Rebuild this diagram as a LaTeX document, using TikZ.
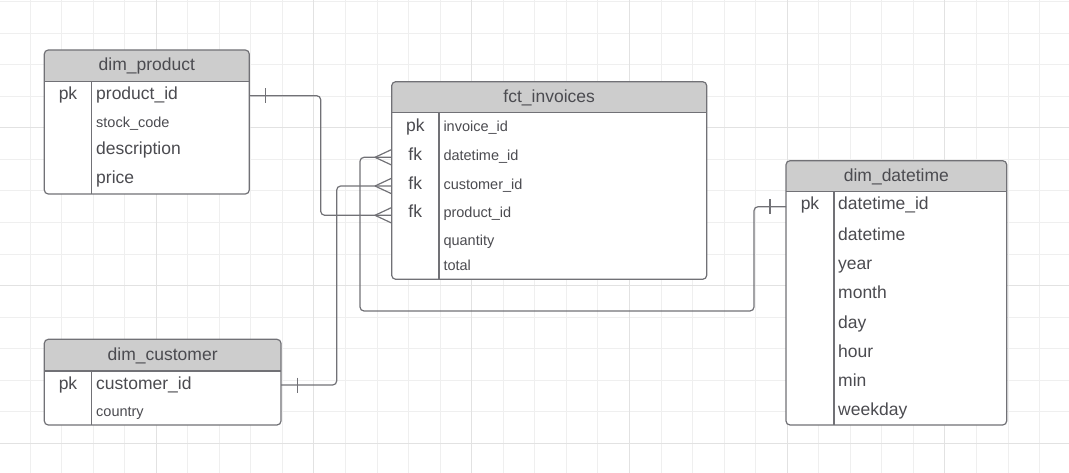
\documentclass[tikz,border=0pt]{standalone}
\usepackage{fontspec}
\setmainfont{Liberation Sans}
\definecolor{gridc}{HTML}{EFEFEF}
\definecolor{gridm}{HTML}{E2E2E2}
\definecolor{hdrc}{HTML}{CDCDCD}
\definecolor{linec}{HTML}{717176}
\definecolor{txtc}{HTML}{4B4B50}

\begin{document}
\begin{tikzpicture}[x=1pt,y=-1pt,
    tbl/.style={draw=linec,line width=1.2pt,rounded corners=4pt},
    conn/.style={draw=linec,line width=1.2pt,rounded corners=4pt},
    big/.style={text=txtc,inner sep=0pt,font=\fontsize{17.5}{20}\selectfont},
    small/.style={text=txtc,inner sep=0pt,font=\fontsize{14.5}{17}\selectfont},
    one/.pic={\draw[conn] (0,-7.5) -- (0,7.5);},
    crow/.pic={\draw[conn] (-16.7,0) -- (0,-7.8) (-16.7,0) -- (0,7.8);}]
    \useasboundingbox (0,0) rectangle (1069,473);
    \foreach \i in {-1,...,33}
      \draw[gridc,line width=1pt] ({30+31.55*\i},0) -- ({30+31.55*\i},473);
    \foreach \j in {0,...,14}
      \draw[gridc,line width=1pt] (0,{1.7+31.55*\j}) -- (1069,{1.7+31.55*\j});
    \foreach \i in {-1,4,...,29}
      \draw[gridm,line width=1pt] ({30+31.55*\i},0) -- ({30+31.55*\i},473);
    \foreach \j in {4,9,14}
      \draw[gridm,line width=1pt] (0,{1.7+31.55*\j}) -- (1069,{1.7+31.55*\j});

    \foreach \nm/\xa/\ya/\xb/\yh/\yb/\xd/\ttl in {
        prod/44.3/50/249.3/81.7/194/91.7/dim\_product,
        cust/44.3/339.3/281/371/425/91.7/dim\_customer,
        inv/391.7/81.7/706.7/112.7/279.3/439/fct\_invoices,
        dt/786/160.7/1006.7/191.7/425/834/dim\_datetime} {
      \fill[white,rounded corners=4pt] (\xa,\ya) rectangle (\xb,\yb);
      \begin{scope}
        \clip (\xa,\ya) rectangle (\xb,\yh);
        \fill[hdrc,rounded corners=4pt] (\xa,\ya) rectangle (\xb,\yb);
      \end{scope}
      \draw[tbl] (\xa,\ya) rectangle (\xb,\yb);
      \draw[tbl] (\xa,\yh) -- (\xb,\yh) (\xd,\yh) -- (\xd,\yb);
      \node[big,anchor=base] (\nm) at ({(\xa+\xb)/2},{(\ya+\yh)/2+5}) {\ttl};
    }

    \node[big,anchor=base] (prod-pk) at (68,100) {pk};
    \foreach \f/\s/\y [count=\i] in {product\_id/big/100,stock\_code/small/127.5,
        description/big/155,price/big/183.5}
      \node[\s,anchor=base west] (prod-\i) at (96,\y) {\f};

    \node[big,anchor=base] (cust-pk) at (68,389.3) {pk};
    \foreach \f/\s/\y [count=\i] in {customer\_id/big/389.3,country/small/416.5}
      \node[\s,anchor=base west] (cust-\i) at (96,\y) {\f};

    \foreach \k/\y [count=\i] in {pk/131.5,fk/160.3,fk/189.2,fk/218}
      \node[big,anchor=base] (inv-k\i) at (415.3,\y) {\k};
    \foreach \f/\y [count=\i] in {invoice\_id/131.5,datetime\_id/160.3,customer\_id/189.2,
        product\_id/218,quantity/246,total/271}
      \node[small,anchor=base west] (inv-\i) at (443.3,\y) {\f};

    \node[big,anchor=base] (dt-pk) at (810,210) {pk};
    \foreach \f [count=\i from 0] in {datetime\_id,datetime,year,month,day,hour,min,weekday}
      \node[big,anchor=base west] (dt-\i) at (838,{210+29.2*\i+(\i>0)*1.2}) {\f};

    \coordinate (prod-e) at (249.3,95.7);
    \coordinate (cust-e) at (281,385);
    \coordinate (inv-d) at (391.7,157.3);
    \coordinate (inv-c) at (391.7,186);
    \coordinate (inv-p) at (391.7,215.3);
    \coordinate (dt-w) at (786,206.7);

    \draw[conn] (prod-e) -- ++(71.4,0) |- (inv-p);
    \draw[conn] (cust-e) -- ++(55.7,0) |- (inv-c);
    \draw[conn] (inv-d) -| (360,311) -| (754,206.7) -- (dt-w);
    \path (prod-e) ++(16.4,0) pic {one};
    \path (cust-e) ++(16.7,0) pic {one};
    \path (dt-w) ++(-16,0) pic {one};
    \foreach \c in {inv-d,inv-c,inv-p}
      \path (\c) pic {crow};
  \end{tikzpicture}
\end{document}
